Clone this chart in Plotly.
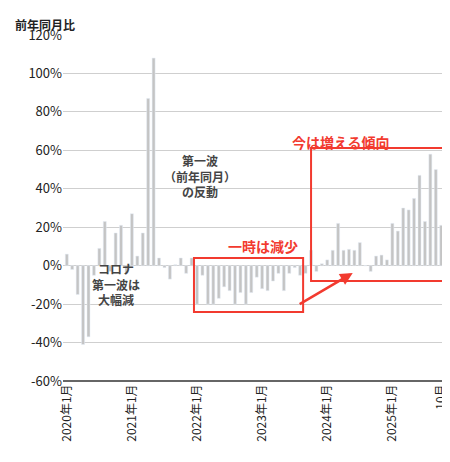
import plotly.graph_objects as go

values = [6, -2, -15, -41, -37, -5, 9, 23, -3, 17, 21, -4,
          27, 5, 17, 87, 108, 4, -1, -7, 0.5, 4, -4, 4,
          -20, -5, -20, -20, -17, -11, -13, -20, -14, -20, -14, -6,
          -12, -13, -8, -4, -13, -4, -1, -5, -4, 8, -3, 1,
          3, 8, 22, 8, 8.5, 8, 12, 0, -3, 5, 5.5, 3,
          22, 18, 30, 29, 35, 47, 23, 58, 50, 21]
tick_idx = [0, 12, 24, 36, 48, 60, 69]
tick_text = ["2020年1月", "2021年1月", "2022年1月", "2023年1月", "2024年1月", "2025年1月", "10月"]
y_ticks = [-60, -40, -20, 0, 20, 40, 60, 80, 100, 120]

FONT = "Noto Sans CJK JP"
RED = "#f23a2f"
x = list(range(len(values)))

fig = go.Figure(go.Bar(x=x, y=values, marker_color="#c4c4c4", width=0.55))

L, R, T, B = 55, 440, 27, 373
def px(v): return (v - L) / (R - L)
def py(v): return (B - v) / (B - T)

fig.update_layout(
    width=450, height=462, margin=dict(l=L, r=450 - R, t=T, b=462 - B),
    plot_bgcolor="white", paper_bgcolor="white", showlegend=False,
    font=dict(family=FONT, size=12, color="#333"),
    xaxis=dict(range=[-0.7, 69.7], tickvals=tick_idx, ticktext=tick_text, tickangle=-90,
               showgrid=False, ticks="", tickfont=dict(size=12, color="#222")),
    yaxis=dict(range=[-60, 120], tickvals=y_ticks, ticktext=[f"{v}%" for v in y_ticks],
               gridcolor="#cfcfcf", zeroline=False, ticks="", tickfont=dict(size=13, color="#222")),
    shapes=[
        dict(type="line", xref="paper", yref="paper", x0=0, x1=1, y0=0, y1=0, line=dict(color="#333", width=1.5)),
        dict(type="rect", xref="paper", yref="paper", x0=px(187), x1=px(297), y0=py(304), y1=py(250),
             line=dict(color=RED, width=2)),
        dict(type="rect", xref="paper", yref="paper", x0=px(305), x1=px(440), y0=py(273), y1=py(140),
             line=dict(color=RED, width=2)),
    ],
    annotations=[
        dict(xref="x domain", yref="y domain", x=px(347), y=py(265), ax=px(292), ay=py(297),
             axref="x domain", ayref="y domain",
             text="", showarrow=True, arrowhead=2, arrowsize=1, arrowwidth=2.5, arrowcolor=RED),
        dict(xref="paper", yref="paper", x=-0.13, y=py(17), text="<b>前年同月比</b>", showarrow=False,
             xanchor="left", yanchor="middle", font=dict(size=12, color="#222")),
        dict(xref="paper", yref="paper", x=px(257), y=py(238), text="<b>一時は減少</b>", showarrow=False,
             font=dict(size=14, color=RED)),
        dict(xref="paper", yref="paper", x=px(387), y=py(122), text="<b>今は増える傾向</b>", showarrow=False,
             font=dict(size=14, color=RED)),
        dict(xref="paper", yref="paper", x=px(155), y=py(168), text="<b>第一波<br>（前年同月）<br>の反動</b>",
             showarrow=False, font=dict(size=12, color="#444")),
        dict(xref="paper", yref="paper", x=px(82), y=py(302), text="<b>コロナ<br>第一波は<br>大幅減</b>",
             showarrow=False, font=dict(size=12, color="#444")),
    ],
)
fig.write_html("out.html")
